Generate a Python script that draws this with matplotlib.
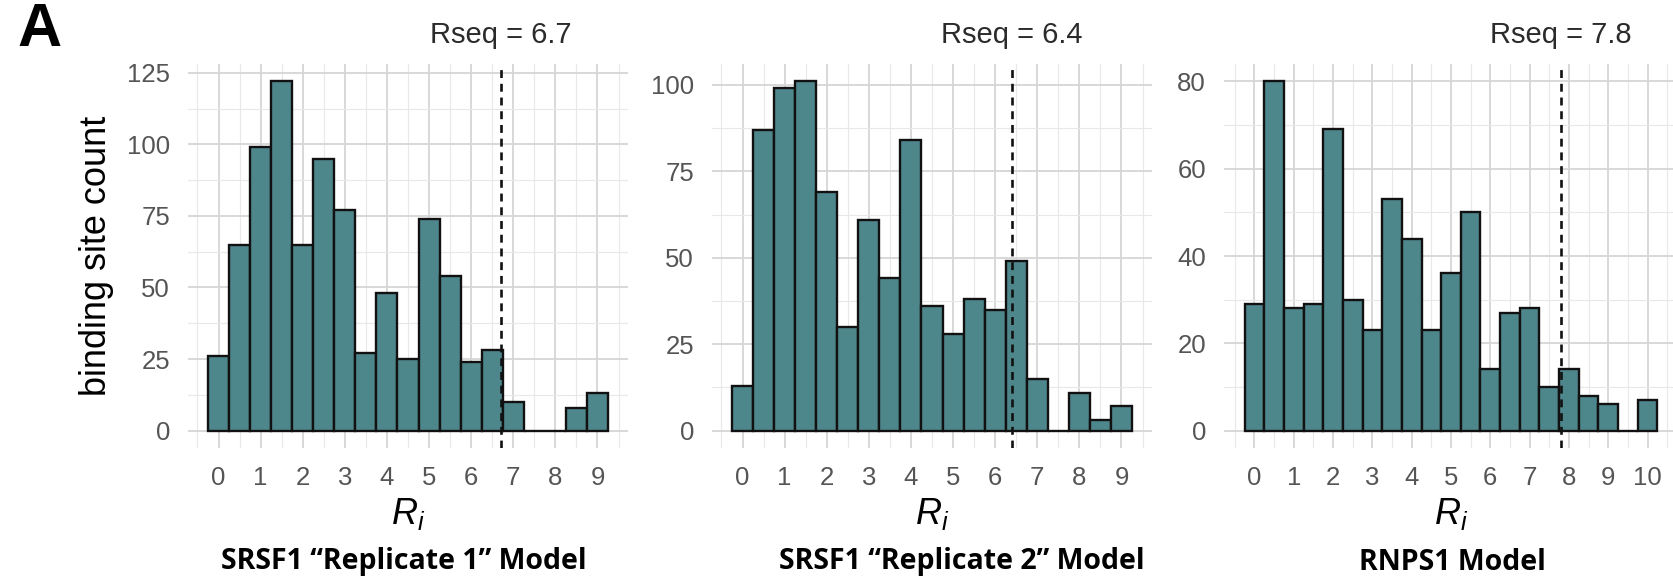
import numpy as np
import matplotlib.pyplot as plt
from matplotlib.ticker import MultipleLocator
import matplotlib.transforms as mtransforms

plt.rcParams['font.family'] = ['Liberation Sans', 'DejaVu Sans']
plt.rcParams['mathtext.fontset'] = 'custom'
plt.rcParams['mathtext.it'] = 'Liberation Sans:italic'
plt.rcParams['mathtext.rm'] = 'Liberation Sans'

# bin counts, bins of width 0.5 centred on 0, 0.5, 1, ...
rep1_counts = [26, 65, 99, 122, 65, 95, 77, 27, 48, 25, 74, 54, 24, 28, 10, 0, 0, 8, 13]
rep2_counts = [13, 87, 99, 101, 69, 30, 61, 44, 84, 36, 28, 38, 35, 49, 15, 0, 11, 3, 7]
rnps1_counts = [29, 80, 28, 29, 69, 30, 23, 53, 44, 23, 36, 50, 14, 27, 28, 10, 14, 8, 6, 0, 7]

rseq_values = [6.7, 6.4, 7.8]
titles = ['SRSF1 \u201cReplicate 1\u201d Model',
          'SRSF1 \u201cReplicate 2\u201d Model',
          'RNPS1 Model']
y_steps = [25, 25, 20]
x_max_tick = [9, 9, 10]

bin_width = 0.5
bar_color = '#4e878b'
W, H = 1673, 583

fig = plt.figure(figsize=(W / 100, H / 100), dpi=100, facecolor='w')

# axes boxes in pixels: left, right
boxes = [(188, 628), (712, 1152), (1224, 1678)]
top_px, bot_px = 64, 448
title_x = [404, 962, 1452]

counts_all = [rep1_counts, rep2_counts, rnps1_counts]

for k in range(3):
    counts = np.array(counts_all[k])
    centers = np.arange(len(counts)) * bin_width
    l, r = boxes[k]
    ax = fig.add_axes([l / W, 1 - bot_px / H, (r - l) / W, (bot_px - top_px) / H])

    ax.bar(centers, counts, width=bin_width, color=bar_color,
           edgecolor='#111111', linewidth=1.7, zorder=3)

    lo = centers[0] - bin_width / 2
    hi = centers[-1] + bin_width / 2
    pad = 0.05 * (hi - lo)
    ax.set_xlim(lo - pad, hi + pad)
    ymax = counts.max()
    ax.set_ylim(-0.05 * ymax, 1.05 * ymax)

    ax.xaxis.set_major_locator(MultipleLocator(1))
    ax.xaxis.set_minor_locator(MultipleLocator(0.5))
    ax.yaxis.set_major_locator(MultipleLocator(y_steps[k]))
    ax.yaxis.set_minor_locator(MultipleLocator(y_steps[k] / 2))
    ax.set_xticks(np.arange(0, x_max_tick[k] + 1))

    ax.grid(which='major', color='#d6d6d6', linewidth=1.3, zorder=0)
    ax.grid(which='minor', color='#e8e8e8', linewidth=0.8, zorder=0)
    ax.set_axisbelow(True)
    for s in ax.spines.values():
        s.set_visible(False)
    ax.tick_params(which='both', length=0, labelsize=18.5, labelcolor='#555555')
    ax.tick_params(axis='x', pad=13)
    ax.tick_params(axis='y', pad=13)

    ax.axvline(rseq_values[k], color='#111111', linestyle=(0, (3, 2.2)),
               linewidth=1.9, zorder=4)
    trans = mtransforms.blended_transform_factory(ax.transData, ax.transAxes)
    ax.text(rseq_values[k], 1.075, 'Rseq = %.1f' % rseq_values[k],
            transform=trans, ha='center', va='center', fontsize=21,
            color='#2b2b2b')

    ax.set_xlabel(r'$R_i$', fontsize=26, labelpad=4)
    if k == 0:
        ax.set_ylabel('binding site count', fontsize=26, labelpad=9)

    fig.text(title_x[k] / W, 1 - 562 / H, titles[k], ha='center', va='center',
             fontsize=20.5, fontweight='bold', family='Open Sans')

fig.text(17 / W, 1 - 30 / H, 'A', ha='left', va='center', fontsize=44,
         fontweight='bold')

fig.savefig('out.png', dpi=100, facecolor='w')
